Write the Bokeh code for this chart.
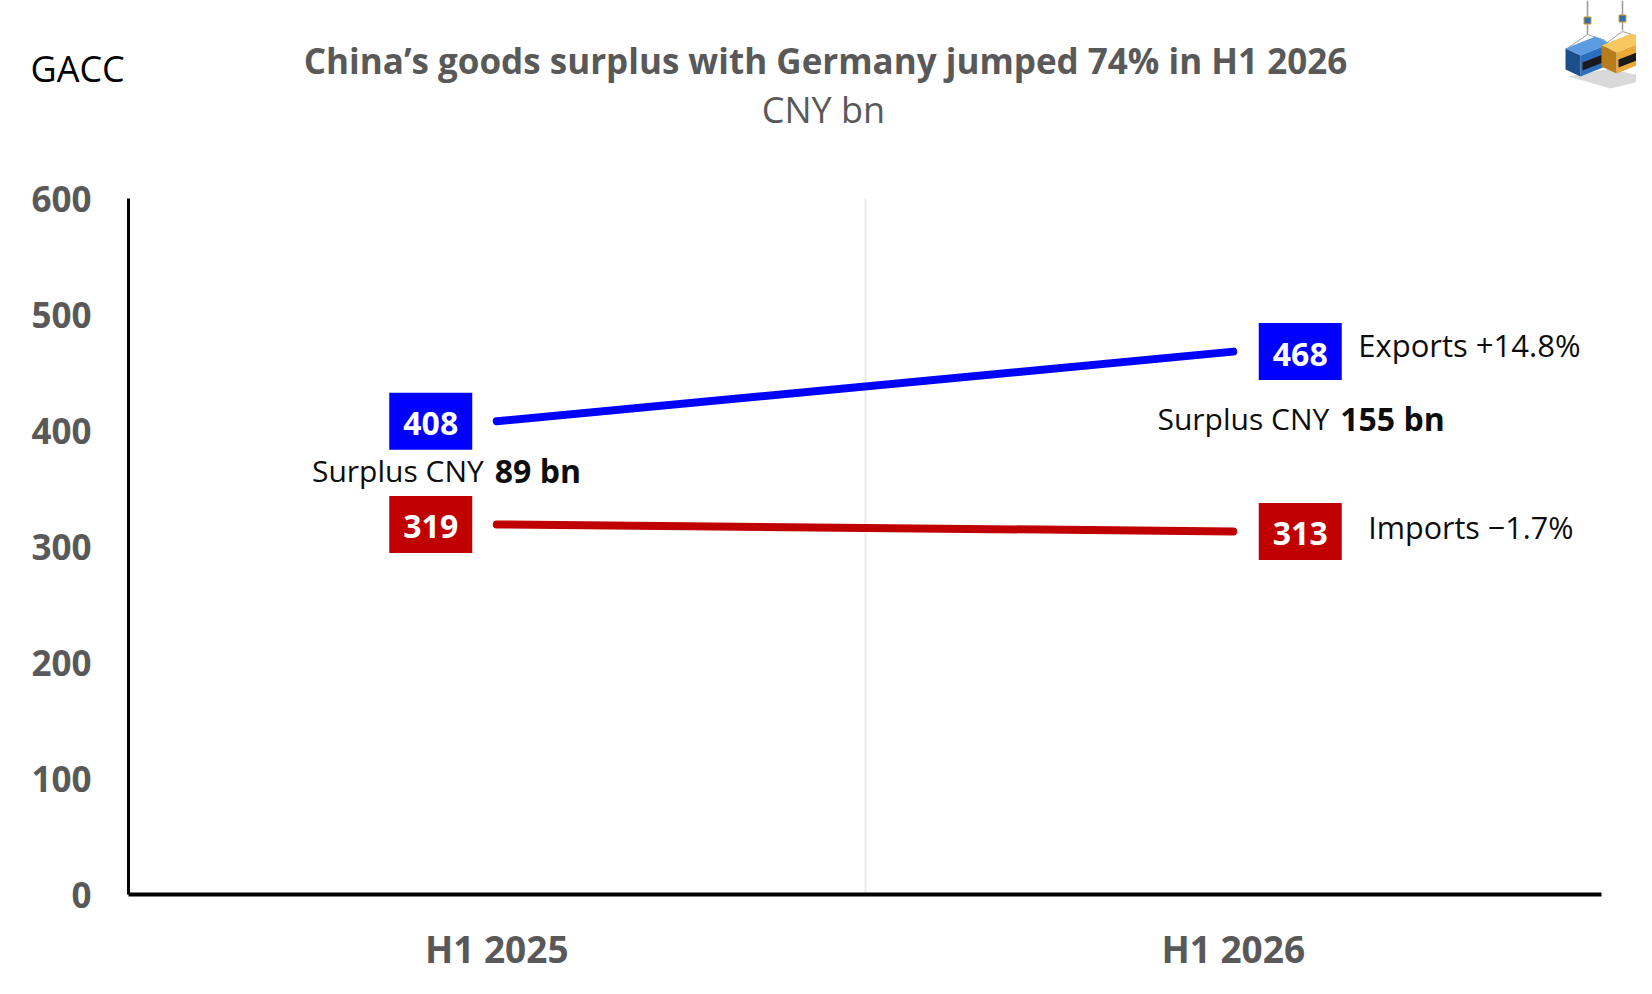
from bokeh.plotting import figure
from bokeh.layouts import column
from bokeh.models import ColumnDataSource, FixedTicker, Label, Range1d
from bokeh.core.properties import value
from bokeh.embed import file_html
from bokeh.resources import INLINE

# ---------------- data ----------------
categories = ["H1 2025", "H1 2026"]
exports = [408, 468]
imports = [319, 313]
series_names = ["Exports", "Imports"]
series_changes = ["+14.8%", "\u22121.7%"]
y_ticks = [0, 100, 200, 300, 400, 500, 600]

title_text = "China\u2019s goods surplus with Germany jumped 74% in H1 2026"
subtitle_text = "CNY bn"
source_text = "GACC"

# ---------------- style ----------------
FONT = "Open Sans"
GREY = "#595959"
BLUE = "#0000FF"
RED = "#C00000"
INK = "#0d0d0d"
BASE_FIX = -10.5   # alphabetic-baseline correction (px)

W = 1636
HH = 160                      # header height
H = 978 - HH                  # main figure height
L, R, T, B = 128, 35, 198 - HH, 84
frame_w = W - L - R
frame_h = H - T - B

n = len(categories)
xpos = [i + 0.5 for i in range(n)]
px_per_x = frame_w / n

# ---------------- header (titles + logo) ----------------
OX, OY = 2, 2   # page offset of the figure
hdr = figure(width=W, height=HH, output_backend="svg", toolbar_location=None,
             x_range=Range1d(OX, OX + W), y_range=Range1d(OY + HH, OY),
             min_border=0, min_border_left=0, min_border_right=0,
             min_border_top=0, min_border_bottom=0,
             x_axis_type=None, y_axis_type=None, frame_align=False)
hdr.outline_line_color = None
hdr.grid.visible = False
hdr.background_fill_color = "white"
hdr.border_fill_color = "white"

hdr.add_layout(Label(x=827, y=72.5, y_offset=-BASE_FIX, text=title_text,
                     text_align="center", text_baseline="alphabetic",
                     text_font=FONT, text_font_style="bold",
                     text_font_size="35px", text_color=GREY))
hdr.add_layout(Label(x=825, y=121, y_offset=-BASE_FIX, text=subtitle_text,
                     text_align="center", text_baseline="alphabetic",
                     text_font=FONT, text_font_size="36px", text_color=GREY))
hdr.add_layout(Label(x=32, y=80, y_offset=-BASE_FIX, text=source_text,
                     text_align="left", text_baseline="alphabetic",
                     text_font=FONT, text_font_size="36px", text_color="black"))

# logo: two hanging containers (decorative)
hdr.segment(x0=[1589, 1624], y0=[OY, OY], x1=[1589, 1624], y1=[36, 32],
            line_color="#9a9a9a", line_width=1.5)
hdr.scatter(x=[1589, 1624], y=[22, 20], size=7, marker="square",
            fill_color="#2f6fb0", line_color="#d4a020")
hdr.patch(x=[1570, 1612, 1652, 1612], y=[78, 70, 80, 90], fill_color="#d9d9d9",
          line_color=None)
for dx, dy, top, front, side in ((0, 0, "#5b9be0", "#2c6fbf", "#1d4f8c"),
                                 (36, -3, "#f7c860", "#eda935", "#b97c1c")):
    hdr.segment(x0=[1589 + dx * 0.97] * 2, y0=[36 + dy] * 2,
                x1=[1570 + dx, 1607 + dx], y1=[49 + dy, 42 + dy],
                line_color="#a0a0a0", line_width=1)
    hdr.patch(x=[1567 + dx, 1597 + dx, 1612 + dx, 1582 + dx],
              y=[50 + dy, 38 + dy, 45 + dy, 57 + dy], fill_color=top,
              line_color=None)
    hdr.patch(x=[1582 + dx, 1612 + dx, 1612 + dx, 1582 + dx],
              y=[57 + dy, 45 + dy, 66 + dy, 78 + dy], fill_color=front,
              line_color=None)
    hdr.patch(x=[1567 + dx, 1582 + dx, 1582 + dx, 1567 + dx],
              y=[50 + dy, 57 + dy, 78 + dy, 71 + dy], fill_color=side,
              line_color=None)
    hdr.patch(x=[1584 + dx, 1612 + dx, 1612 + dx, 1584 + dx],
              y=[64 + dy, 53 + dy, 61 + dy, 72 + dy], fill_color="#1a1a1a",
              line_color=None)

# ---------------- main chart ----------------
p = figure(width=W, height=H, output_backend="svg", toolbar_location=None,
           x_range=Range1d(0, n), y_range=Range1d(y_ticks[0], y_ticks[-1]),
           min_border_left=L, min_border_right=R, min_border_top=T,
           min_border_bottom=B, frame_align=False)
p.outline_line_color = None
p.background_fill_color = "white"
p.border_fill_color = "white"

p.xaxis.ticker = FixedTicker(ticks=xpos)
p.xaxis.major_label_overrides = {x: c for x, c in zip(xpos, categories)}
p.yaxis.ticker = FixedTicker(ticks=y_ticks)
for ax in (p.xaxis, p.yaxis):
    ax.major_tick_line_color = None
    ax.minor_tick_line_color = None
    ax.axis_line_color = "black"
    ax.major_label_text_font = FONT
    ax.major_label_text_font_style = "bold"
    ax.major_label_text_color = GREY
p.xaxis.axis_line_width = 4
p.yaxis.axis_line_width = 3
p.xaxis.major_label_text_font_size = "37px"
p.yaxis.major_label_text_font_size = "35px"
p.xaxis.major_label_standoff = 22
p.yaxis.major_label_standoff = 31

p.ygrid.grid_line_color = None
p.xgrid.ticker = FixedTicker(ticks=[i + 1 for i in range(n)])
p.xgrid.grid_line_color = "#ebebeb"
p.xgrid.grid_line_width = 2

# lines
p.line(xpos, exports, line_width=8, line_color=BLUE, line_cap="round")
p.line(xpos, imports, line_width=8, line_color=RED, line_cap="round")

# value boxes: left of the first point, right of the last point
box_dx = [-66 if i == 0 else 67 for i in range(n)]
for vals, col in ((exports, BLUE), (imports, RED)):
    src = ColumnDataSource(dict(
        x=[xpos[i] + box_dx[i] / px_per_x for i in range(n)],
        y=vals,
        t=[str(v) for v in vals],
    ))
    p.rect(x="x", y="y", width=83, height=57, width_units="screen",
           height_units="screen", fill_color=col, line_color=None, source=src)
    p.text(x="x", y="y", text="t", source=src, text_align="center",
           text_baseline="alphabetic", y_offset=13 + BASE_FIX,
           text_font=value(FONT), text_font_style="bold",
           text_font_size="32px", text_color="white")

# series labels at the last point
p.text(x=[xpos[-1]], y=[exports[-1]],
       text=[f"{series_names[0]} {series_changes[0]}"],
       x_offset=125, y_offset=4 + BASE_FIX, text_align="left",
       text_baseline="alphabetic", text_font=value(FONT),
       text_font_size="31px", text_color=INK)
p.text(x=[xpos[-1]], y=[imports[-1]],
       text=[f"{series_names[1]} {series_changes[1]}"],
       x_offset=135, y_offset=6 + BASE_FIX, text_align="left",
       text_baseline="alphabetic", text_font=value(FONT),
       text_font_size="30.5px", text_color=INK)

# surplus labels
surplus = [e - i for e, i in zip(exports, imports)]
sur_src = ColumnDataSource(dict(
    x=xpos, y=exports,
    reg=["Surplus CNY"] * n,
    bold=[f"{s} bn" for s in surplus],
    dx_reg=[-13, 96], dx_bold=[-2, 107],
    dy=[60 + BASE_FIX, 77 + BASE_FIX],
))
p.text(x="x", y="y", text="reg", source=sur_src, x_offset="dx_reg",
       y_offset="dy", text_align="right", text_baseline="alphabetic",
       text_font=value(FONT), text_font_size="30px", text_color=INK)
p.text(x="x", y="y", text="bold", source=sur_src, x_offset="dx_bold",
       y_offset="dy", text_align="left", text_baseline="alphabetic",
       text_font=value(FONT), text_font_style="bold", text_font_size="32px",
       text_color=INK)

layout = column(hdr, p, spacing=0)
open("out.html", "w").write(file_html(layout, INLINE))
